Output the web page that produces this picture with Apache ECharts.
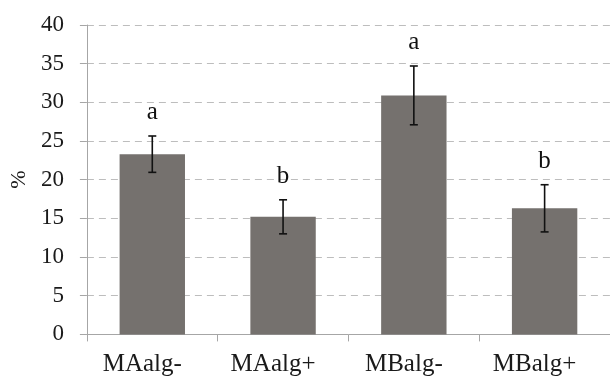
<!DOCTYPE html>
<html>
<head>
<meta charset="utf-8">
<script src="https://cdn.jsdelivr.net/npm/echarts@6/dist/echarts.min.js"></script>
<style>
  html, body { margin: 0; padding: 0; background: #fff; }
  #chart { width: 610px; height: 378px; }
</style>
</head>
<body>
<div id="chart"></div>
<script>
// Group names and measured percentages
const categories = ['MAalg-', 'MAalg+', 'MBalg-', 'MBalg+'];
const means = [23.3, 15.2, 30.9, 16.3];
const errors = [2.35, 2.2, 3.8, 3.05];
const letters = ['a', 'b', 'a', 'b'];
const yTicks = [0, 5, 10, 15, 20, 25, 30, 35, 40];

const serif = '"Liberation Serif", "Times New Roman", serif';

const errData = categories.map((c, i) => [i, means[i] - errors[i], means[i] + errors[i], letters[i]]);

const chart = echarts.init(document.getElementById('chart'), null, { renderer: 'canvas' });
chart.setOption({
  animation: false,
  backgroundColor: '#ffffff',
  grid: { left: 85, right: 0, top: 25, bottom: 43.6, containLabel: false },
  xAxis: {
    type: 'category',
    data: categories,
    axisLine: { show: true, lineStyle: { color: '#a6a6a6', width: 1 } },
    axisTick: { show: true, length: 7, lineStyle: { color: '#a6a6a6' } },
    axisLabel: {
      fontFamily: serif, fontSize: 25, color: '#1a1a1a', margin: 18,
      padding: [0, 20, 0, 0]
    }
  },
  yAxis: {
    type: 'value',
    min: yTicks[0],
    max: yTicks[yTicks.length - 1],
    interval: yTicks[1] - yTicks[0],
    name: '%',
    nameLocation: 'middle',
    nameRotate: 90,
    nameGap: 56,
    nameTextStyle: { fontFamily: serif, fontSize: 22, color: '#1a1a1a' },
    axisLine: { show: true, lineStyle: { color: '#a6a6a6', width: 1 } },
    axisTick: { show: true, length: 7, inside: false, lineStyle: { color: '#a6a6a6' } },
    axisLabel: { fontFamily: serif, fontSize: 23, color: '#1a1a1a', margin: 23 },
    splitLine: { show: true, lineStyle: { color: '#bdbdbd', type: [7, 5], width: 1 } }
  },
  series: [
    {
      type: 'bar',
      data: means,
      barWidth: '50%',
      itemStyle: { color: '#75716e' }
    },
    {
      type: 'custom',
      data: errData,
      encode: { x: 0, y: [1, 2] },
      z: 5,
      renderItem: function (params, api) {
        const x = api.value(0);
        const lo = api.coord([x, api.value(1)]);
        const hi = api.coord([x, api.value(2)]);
        const cap = 4;
        const style = { stroke: '#111', lineWidth: 1.6 };
        return {
          type: 'group',
          children: [
            { type: 'line', shape: { x1: hi[0], y1: hi[1], x2: lo[0], y2: lo[1] }, style: style },
            { type: 'line', shape: { x1: hi[0] - cap, y1: hi[1], x2: hi[0] + cap, y2: hi[1] }, style: style },
            { type: 'line', shape: { x1: lo[0] - cap, y1: lo[1], x2: lo[0] + cap, y2: lo[1] }, style: style },
            {
              type: 'text',
              style: {
                text: api.value(3),
                x: hi[0],
                y: hi[1] - 11,
                textAlign: 'center',
                textVerticalAlign: 'bottom',
                font: '25px ' + serif,
                fill: '#111'
              }
            }
          ]
        };
      }
    }
  ]
});
</script>
</body>
</html>
